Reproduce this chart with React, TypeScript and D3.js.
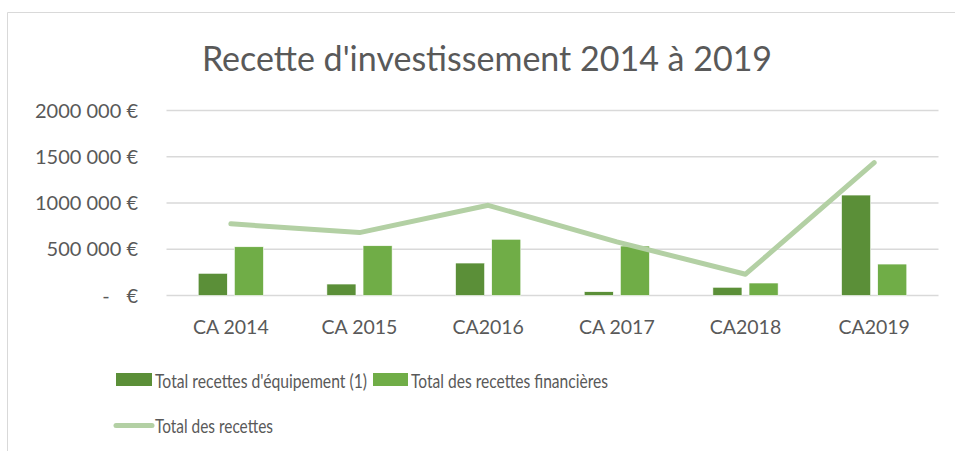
import React from "react";
import * as d3 from "d3";

const categories = ["CA 2014", "CA 2015", "CA2016", "CA 2017", "CA2018", "CA2019"];
const equipement = [240000, 124000, 351000, 41000, 89000, 1086000];
const financieres = [527000, 538000, 608000, 535000, 135000, 340000];
const totals = [775000, 680000, 975000, 580000, 230000, 1436000];
const yTicks = [0, 500000, 1000000, 1500000, 2000000];
const seriesNames = ["Total recettes d'équipement (1)", "Total des recettes financières", "Total des recettes"];

const W = 955, H = 451;
const FONT = "Lato, 'Open Sans', sans-serif";
const TXT = "#595959";
const C_DARK = "#5b8f38";
const C_LIGHT = "#70ad47";
const C_LINE = "#b3d0a4";

const fmt = (v: number) => {
  if (v === 0) return null;
  const s = String(v);
  return s.slice(0, s.length - 3) + " " + s.slice(-3) + " €";
};

export default function App() {
  const x = d3.scaleBand<string>().domain(categories).range([166.5, 938.5]).padding(0);
  const y = d3.scaleLinear().domain([0, 2000000]).range([295.5, 110.5]);
  const bw = x.bandwidth();
  const barW = bw * 0.226;
  const gap = bw * 0.055;
  const line = d3
    .line<number>()
    .x((_, i) => (x(categories[i]) as number) + bw / 2)
    .y((d) => y(d));

  return (
    <svg width={W} height={H} style={{ position: "absolute", left: 0, top: 0 }}>
      <rect x={0} y={0} width={W} height={H} fill="#fff" />
      <path d={`M7.5,451 V12.5 H955`} fill="none" stroke="#d9d9d9" strokeWidth={1} />
      <text x={487} y={71} textAnchor="middle" fontFamily={FONT} fontSize={34} fill={TXT}>
        Recette d'investissement 2014 à 2019
      </text>
      {yTicks.map((t) => (
        <g key={t}>
          <line x1={166.5} x2={938.5} y1={y(t)} y2={y(t)} stroke="#d9d9d9" strokeWidth={1.5} />
          {fmt(t) ? (
            <text x={138} y={y(t) + 7} textAnchor="end" fontFamily={FONT} fontSize={20} fill={TXT}>
              {fmt(t)}
            </text>
          ) : (
            <g>
              <text x={106} y={y(t) + 7} textAnchor="middle" fontFamily={FONT} fontSize={20} fill={TXT}>-</text>
              <text x={138} y={y(t) + 7} textAnchor="end" fontFamily={FONT} fontSize={20} fill={TXT}>€</text>
            </g>
          )}
        </g>
      ))}
      {categories.map((c, i) => {
        const cx = (x(c) as number) + bw / 2;
        return (
          <g key={c}>
            <rect x={cx - gap / 2 - barW} y={y(equipement[i])} width={barW} height={y(0) - y(equipement[i])} fill={C_DARK} stroke="#fff" strokeWidth={0.6} />
            <rect x={cx + gap / 2} y={y(financieres[i])} width={barW} height={y(0) - y(financieres[i])} fill={C_LIGHT} stroke="#fff" strokeWidth={0.6} />
            <text x={cx} y={334} textAnchor="middle" fontFamily={FONT} fontSize={19.5} fill={TXT}>{c}</text>
          </g>
        );
      })}
      <path d={line(totals) || ""} fill="none" stroke={C_LINE} strokeWidth={5} strokeLinecap="round" strokeLinejoin="round" />
      <g fontFamily={FONT} fontSize={20} fill={TXT}>
        <rect x={116} y={373} width={36} height={13} fill={C_DARK} />
        <text x={155} y={387.5} textLength={212} lengthAdjust="spacingAndGlyphs">{seriesNames[0]}</text>
        <rect x={373} y={373} width={35} height={13} fill={C_LIGHT} />
        <text x={411} y={387.5} textLength={197} lengthAdjust="spacingAndGlyphs">{seriesNames[1]}</text>
        <line x1={116} x2={152} y1={425.5} y2={425.5} stroke={C_LINE} strokeWidth={5} strokeLinecap="round" />
        <text x={155} y={432.5} textLength={118} lengthAdjust="spacingAndGlyphs">{seriesNames[2]}</text>
      </g>
    </svg>
  );
}
